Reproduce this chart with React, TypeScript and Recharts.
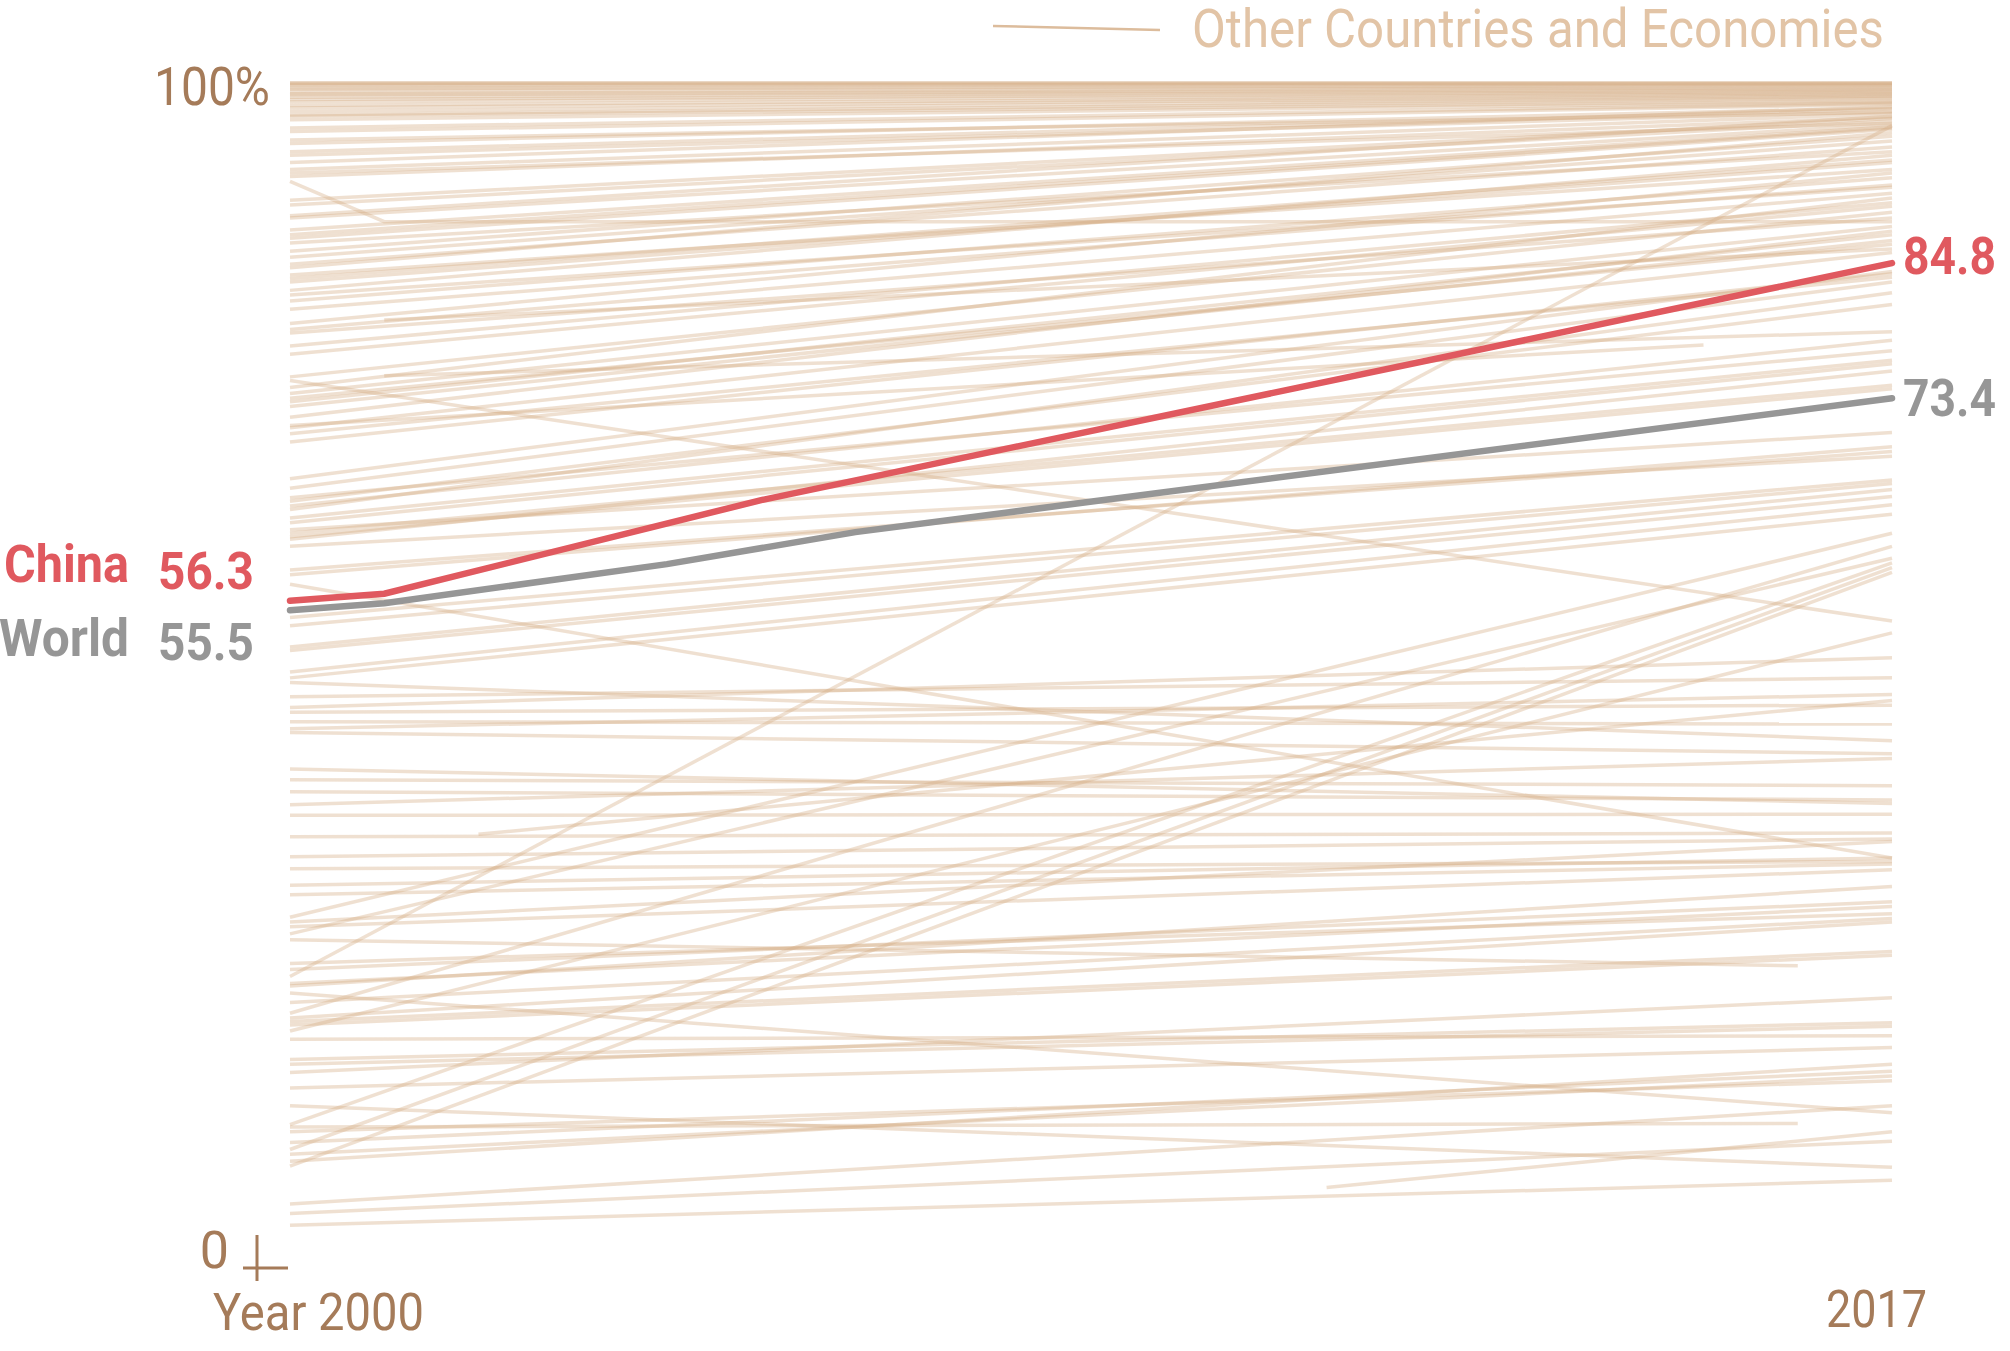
import React from 'react';
import { LineChart, Line, XAxis, YAxis, Legend } from 'recharts';

const FIRST_YEAR = 2000;
const LAST_YEAR = 2017;

// other countries and economies: value in 2000, and the same line's value in 2017
const OTHERS_2000 = [
  100, 100, 99.9, 99.8, 99.6, 99.5, 99.3, 99.1, 99.0, 98.8, 98.6, 98.4, 98.1, 97.9, 97.6, 97.3,
  97.2, 96.9, 96.2, 95.9, 95.2, 94.9, 94.2, 93.9, 93.3, 92.7, 92.4, 92.1, 90.1, 89.7, 88.8, 88.6,
  87.6, 87.2, 86.9, 86.5, 85.8, 85.3, 84.7, 84.4, 83.8, 83.5, 83.2, 82.5, 82.1, 81.6, 80.9, 79.7,
  79.2, 78.9, 77.8, 77.1, 75.2, 74.3, 73.8, 73.4, 73.1, 72.7, 71.8, 70.9, 70.4, 69.7,
  66.6, 65.8, 65.0, 64.7, 64.3, 64.0, 63.3, 62.9, 62.3, 62.0, 61.7, 61.5, 60.9, 58.9, 58.5,
  54.9, 54.2, 52.4, 52.1, 50.3, 49.8, 49.4, 48.2, 47.3, 46.9, 46.1, 45.5, 45.2, 42.1, 41.2, 40.2,
  39.1, 38.2, 36.4, 34.7, 33.7, 32.3, 31.5, 29.2, 28.8, 25.7, 25.2, 24.0, 23.8, 22.4, 21.1, 20.8,
  20.5, 19.3, 17.6, 17.2, 16.5, 15.2, 11.5, 10.6, 9.6, 9.0, 5.4, 4.6,
  74.9, 57.7, 23.2, 13.7, 24.6, 20.0, 8.6, 29.6, 21.5, 28.2, 12.1, 10.0, 3.6,
];

const OTHERS_2017 = [
  100, 100, 99.95, 99.9, 99.8, 99.7, 99.6, 99.5, 99.4, 99.3, 99.2, 99.1, 99.0, 98.9, 98.8, 98.7,
  98.5, 98.4, 98.3, 98.2, 97.5, 97.9, 97.8, 97.6, 98.0, 97.4, 96.6, 97.1, 97.0, 96.8, 97.2, 96.5,
  96.3, 96.2, 96.1, 94.2, 95.5, 95.1, 94.6, 95.8, 92.7, 93.5, 93.3, 93.9, 91.2, 92.0, 91.4, 92.4,
  90.7, 88.6, 89.9, 89.6, 89.1, 90.3, 87.9, 86.4, 87.2, 86.7, 87.5, 85.7, 83.6, 83.9,
  84.1, 83.2, 77.4, 81.3, 78.3, 82.3, 76.6, 76.3, 70.5, 74.5, 74.2, 75.7, 68.5, 68.9, 69.3,
  66.5, 66.2, 65.7, 65.1, 64.4, 63.6, 44.5, 49.8, 51.5, 47.5, 45.9, 48.4, 43.4, 39.2, 40.7, 39.5,
  43.0, 38.3, 36.7, 36.2, 34.3, 34.6, 34.1, 36.0, 33.6, 29.9, 30.9, 30.5, 32.2, 29.5, 29.2, 26.7,
  26.4, 19.6, 20.7, 20.4, 22.8, 18.6, 15.8, 16.6, 16.2, 17.2, 13.7, 10.7,
  54.6, 34.6, 13.1, 8.5, 96.4, 53.6, 58.7, 62.0, 60.9, 59.9, 59.5, 59.1, 7.4,
];

// lines with a bend, or that start late / stop early: [year, value]
const OTHERS_IRREGULAR: [number, number][][] = [
  [[2000, 91.7], [2001, 88.3], [2017, 88.3]],
  [[2001, 80.0], [2017, 86.0]],
  [[2001, 75.3], [2017, 79.0]],
  [[2002, 36.6], [2017, 47.9]],
  [[2011, 6.8], [2017, 11.5]],
  [[2000, 71.1], [2015, 77.9]],
  [[2000, 27.7], [2016, 25.5]],
  [[2000, 11.9], [2016, 12.2]],
];

const WORLD: [number, number][] = [[2000, 55.5], [2001, 56.1], [2004, 59.4], [2006, 62.1], [2017, 73.4]];
const CHINA: [number, number][] = [[2000, 56.3], [2001, 56.9], [2005, 64.8], [2017, 84.8]];

const FONT = "Roboto, 'Liberation Sans', sans-serif";
const BROWN = '#a57b59';
const TAN = '#d6ad86';
const RED = '#e0595f';
const GREY = '#969696';

const toPoints = (pts: [number, number][]) => pts.map(([year, v]) => ({ year, v }));

const otherSeries = [
  ...OTHERS_2000.map((v, i) => toPoints([[FIRST_YEAR, v], [LAST_YEAR, OTHERS_2017[i]]])),
  ...OTHERS_IRREGULAR.map(toPoints),
];

const YTick = ({ x, y, payload }: any) => {
  if (payload.value === 100) {
    return (
      <text x={x - 20} y={y + 22} textAnchor="end" fontSize={54} fill={BROWN} fontFamily={FONT}
        textLength={116} lengthAdjust="spacingAndGlyphs">100%</text>
    );
  }
  return (
    <g>
      <text x={x - 61} y={y} textAnchor="end" fontSize={52} fill={BROWN} fontFamily={FONT}>0</text>
      <line x1={x - 47} y1={y} x2={x - 2} y2={y} stroke={BROWN} strokeWidth={3} />
      <line x1={x - 33} y1={y - 33} x2={x - 33} y2={y + 13} stroke={BROWN} strokeWidth={3} />
    </g>
  );
};

const XTick = ({ x, y, payload }: any) => {
  if (payload.value === FIRST_YEAR) {
    return (
      <text x={x - 77} y={y + 62} fontSize={52} fill={BROWN} fontFamily={FONT}
        textLength={211} lengthAdjust="spacingAndGlyphs">Year 2000</text>
    );
  }
  return (
    <text x={x + 35} y={y + 59} textAnchor="end" fontSize={52} fill={BROWN} fontFamily={FONT}
      textLength={101} lengthAdjust="spacingAndGlyphs">{payload.value}</text>
  );
};

// name + value at the start, value at the end
const makeLabel = (name: string, color: string, count: number, nameDy: number, valueDy: number, nameWidth: number, endDy: number) =>
  (props: any) => {
    const { x, y, index, value } = props;
    const txt = { fontSize: 51, fontWeight: 700, fill: color, fontFamily: FONT };
    if (index === 0) {
      return (
        <g key={`l-${name}-0`}>
          <text x={x - 161} y={y + nameDy} textAnchor="end" {...txt} textLength={nameWidth} lengthAdjust="spacingAndGlyphs">{name}</text>
          <text x={x - 36} y={y + valueDy} textAnchor="end" {...txt} textLength={96} lengthAdjust="spacingAndGlyphs">{value}</text>
        </g>
      );
    }
    if (index === count - 1) {
      return (
        <text key={`l-${name}-e`} x={x + 11} y={y + endDy} {...txt} textLength={93} lengthAdjust="spacingAndGlyphs">{value}</text>
      );
    }
    return null;
  };

const LegendContent = () => (
  <svg width={2010} height={60} style={{ display: 'block', overflow: 'visible' }}>
    <line x1={993} y1={26} x2={1160} y2={30} stroke="#dcbc9c" strokeWidth={2.5} />
    <text x={1192} y={47} fontSize={54} fill="#e2c4a6" fontFamily={FONT}
      textLength={692} lengthAdjust="spacingAndGlyphs">Other Countries and Economies</text>
  </svg>
);

export default function App() {
  return (
    <div style={{ position: 'absolute', left: 0, top: 0, background: '#fff' }}>
      <LineChart width={2010} height={1351} margin={{ top: 83, right: 118, bottom: 0, left: 0 }}>
        <XAxis dataKey="year" type="number" domain={[FIRST_YEAR, LAST_YEAR]} ticks={[FIRST_YEAR, LAST_YEAR]}
          axisLine={false} tickLine={false} tickSize={0} tickMargin={0} height={83} interval={0} tick={<XTick />} />
        <YAxis type="number" domain={[0, 100]} ticks={[0, 100]} axisLine={false} tickLine={false}
          tickSize={0} tickMargin={0} width={290} interval={0} tick={<YTick />} />
        <Legend layout="vertical" align="center" verticalAlign="top" content={<LegendContent />}
          wrapperStyle={{ position: 'absolute', top: 0, left: 0, width: 2010, height: 0, overflow: 'visible' }} />
        {otherSeries.map((pts, i) => (
          <Line key={`o-${i}`} data={pts} dataKey="v" type="linear" stroke={TAN} strokeOpacity={0.38}
            strokeWidth={3.5} dot={false} activeDot={false} isAnimationActive={false} legendType="none" />
        ))}
        <Line data={toPoints(WORLD)} dataKey="v" type="linear" stroke={GREY} strokeWidth={6.5} dot={false}
          activeDot={false} isAnimationActive={false} strokeLinecap="round"
          label={makeLabel('World', GREY, WORLD.length, 46, 50, 130, 18)} />
        <Line data={toPoints(CHINA)} dataKey="v" type="linear" stroke={RED} strokeWidth={6.5} dot={false}
          activeDot={false} isAnimationActive={false} strokeLinecap="round"
          label={makeLabel('China', RED, CHINA.length, -19, -12, 125, 11)} />
      </LineChart>
    </div>
  );
}
